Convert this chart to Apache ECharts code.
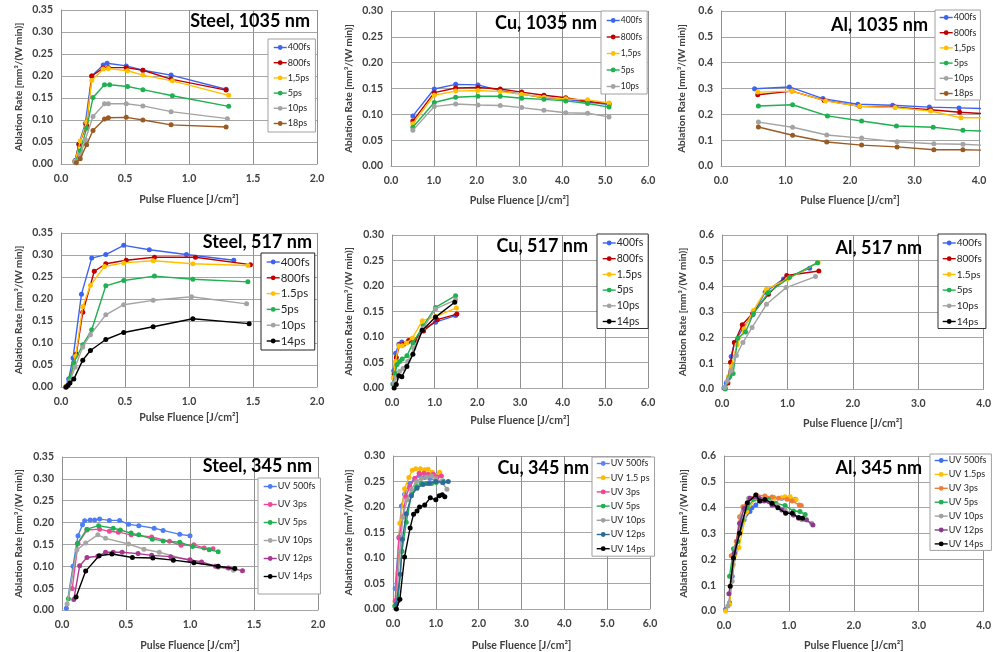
<!DOCTYPE html>
<html><head><meta charset="utf-8">
<script src="https://cdn.jsdelivr.net/npm/echarts/dist/echarts.min.js"></script>
<style>html,body{margin:0;padding:0;background:#fff}#c{width:994px;height:652px}</style>
</head><body><div id="c"></div>
<script>
// ---------- DATA ----------
// Steel, 1035 nm
const steel1035Names = ['400fs','800fs','1,5ps','5ps','10ps','18ps'];
const steel1035_400fs = [[0.11,0.008],[0.14,0.045],[0.19,0.092],[0.24,0.200],[0.33,0.225],[0.36,0.229],[0.51,0.223],[0.64,0.213],[0.86,0.202],[1.29,0.170]];
const steel1035_800fs = [[0.11,0.006],[0.14,0.045],[0.20,0.088],[0.24,0.200],[0.33,0.218],[0.37,0.219],[0.51,0.219],[0.64,0.213],[0.86,0.193],[1.29,0.168]];
const steel1035_1_5ps = [[0.11,0.006],[0.15,0.052],[0.20,0.095],[0.24,0.190],[0.33,0.216],[0.37,0.217],[0.52,0.212],[0.64,0.202],[0.87,0.189],[1.31,0.156]];
const steel1035_5ps = [[0.11,0.004],[0.15,0.030],[0.20,0.081],[0.25,0.151],[0.34,0.180],[0.38,0.180],[0.52,0.176],[0.64,0.169],[0.87,0.155],[1.31,0.131]];
const steel1035_10ps = [[0.11,0.004],[0.15,0.020],[0.19,0.055],[0.25,0.108],[0.34,0.137],[0.37,0.137],[0.51,0.137],[0.64,0.132],[0.86,0.119],[1.30,0.103]];
const steel1035_18ps = [[0.12,0.003],[0.15,0.012],[0.20,0.044],[0.25,0.076],[0.34,0.102],[0.37,0.105],[0.51,0.106],[0.64,0.100],[0.86,0.089],[1.29,0.084]];

// Cu, 1035 nm
const cu1035Names = ['400fs','800fs','1,5ps','5ps','10ps'];
const cu1035_400fs = [[0.51,0.097],[1.01,0.149],[1.51,0.158],[2.03,0.157],[2.55,0.146],[3.05,0.139],[3.57,0.132],[4.08,0.129],[4.59,0.124],[5.09,0.119]];
const cu1035_800fs = [[0.51,0.087],[1.01,0.142],[1.51,0.151],[2.03,0.152],[2.55,0.149],[3.05,0.143],[3.57,0.137],[4.08,0.132],[4.59,0.125],[5.09,0.121]];
const cu1035_1_5ps = [[0.51,0.082],[1.01,0.137],[1.51,0.145],[2.03,0.146],[2.55,0.144],[3.05,0.139],[3.57,0.133],[4.08,0.130],[4.59,0.128],[5.09,0.122]];
const cu1035_5ps = [[0.51,0.075],[1.01,0.123],[1.51,0.133],[2.03,0.135],[2.55,0.135],[3.05,0.131],[3.57,0.129],[4.08,0.126],[4.59,0.121],[5.09,0.114]];
const cu1035_10ps = [[0.51,0.069],[1.01,0.115],[1.51,0.120],[2.03,0.118],[2.55,0.117],[3.05,0.113],[3.57,0.108],[4.08,0.103],[4.59,0.102],[5.09,0.095]];

// Al, 1035 nm
const al1035Names = ['400fs','800fs','1,5ps','5ps','10ps','18ps'];
const al1035_400fs = [[0.52,0.299],[1.06,0.306],[1.58,0.261],[2.12,0.239],[2.66,0.235],[3.23,0.228],[3.69,0.225],[4.25,0.221]];
const al1035_800fs = [[0.57,0.276],[1.10,0.290],[1.60,0.254],[2.15,0.231],[2.70,0.228],[3.25,0.218],[3.70,0.208],[4.25,0.200]];
const al1035_1_5ps = [[0.57,0.286],[1.10,0.290],[1.62,0.252],[2.15,0.231],[2.70,0.226],[3.25,0.213],[3.72,0.187],[4.25,0.187]];
const al1035_5ps = [[0.58,0.232],[1.11,0.237],[1.65,0.194],[2.18,0.174],[2.72,0.155],[3.29,0.150],[3.75,0.138],[4.28,0.133]];
const al1035_10ps = [[0.58,0.170],[1.11,0.150],[1.64,0.120],[2.18,0.108],[2.73,0.094],[3.30,0.086],[3.75,0.084],[4.28,0.078]];
const al1035_18ps = [[0.58,0.151],[1.11,0.119],[1.64,0.093],[2.18,0.081],[2.73,0.074],[3.30,0.063],[3.75,0.063],[4.28,0.060]];

// Steel, 517 nm
const steel517Names = ['400fs','800fs','1.5ps','5ps','10ps','14ps'];
const steel517_400fs = [[0.036,0.000],[0.06,0.018],[0.094,0.066],[0.16,0.211],[0.24,0.293],[0.35,0.301],[0.49,0.322],[0.69,0.312],[0.98,0.301],[1.35,0.288]];
const steel517_800fs = [[0.04,0.000],[0.065,0.013],[0.12,0.075],[0.17,0.170],[0.26,0.263],[0.35,0.280],[0.51,0.288],[0.73,0.295],[1.05,0.295],[1.48,0.278]];
const steel517_1_5ps = [[0.04,0.002],[0.07,0.017],[0.115,0.070],[0.17,0.183],[0.23,0.231],[0.34,0.274],[0.49,0.282],[0.72,0.287],[1.03,0.280],[1.46,0.276]];
const steel517_5ps = [[0.05,0.002],[0.07,0.020],[0.10,0.055],[0.17,0.096],[0.24,0.130],[0.35,0.230],[0.49,0.242],[0.73,0.252],[1.03,0.245],[1.46,0.239]];
const steel517_10ps = [[0.05,0.002],[0.07,0.013],[0.11,0.045],[0.17,0.091],[0.23,0.119],[0.35,0.164],[0.49,0.187],[0.72,0.197],[1.02,0.205],[1.45,0.189]];
const steel517_14ps = [[0.04,0.000],[0.055,0.004],[0.07,0.009],[0.10,0.018],[0.17,0.061],[0.23,0.083],[0.35,0.108],[0.49,0.124],[0.72,0.137],[1.03,0.155],[1.47,0.144]];

// Cu, 517 nm
const cu517Names = ['400fs','800fs','1.5ps','5ps','10ps','14ps'];
const cu517_400fs = [[0.04,0.034],[0.085,0.068],[0.16,0.086],[0.23,0.090],[0.37,0.090],[0.50,0.091],[0.71,0.114],[1.02,0.129],[1.49,0.142]];
const cu517_800fs = [[0.05,0.027],[0.10,0.060],[0.18,0.085],[0.27,0.086],[0.39,0.093],[0.53,0.093],[0.74,0.112],[1.06,0.134],[1.52,0.145]];
const cu517_1_5ps = [[0.03,0.020],[0.08,0.052],[0.16,0.083],[0.24,0.083],[0.34,0.088],[0.48,0.098],[0.71,0.132],[1.02,0.140],[1.51,0.157]];
const cu517_5ps = [[0.02,0.008],[0.07,0.029],[0.12,0.046],[0.18,0.052],[0.24,0.057],[0.35,0.063],[0.49,0.088],[0.73,0.122],[1.02,0.158],[1.49,0.181]];
const cu517_10ps = [[0.05,0.010],[0.10,0.021],[0.18,0.033],[0.26,0.038],[0.37,0.052],[0.51,0.078],[0.73,0.117],[1.02,0.155],[1.49,0.173]];
const cu517_14ps = [[0.05,0.000],[0.10,0.007],[0.16,0.024],[0.23,0.022],[0.35,0.042],[0.49,0.066],[0.71,0.113],[1.02,0.139],[1.47,0.168]];

// Al, 517 nm
const al517Names = ['400fs','800fs','1.5ps','5ps','10ps','14ps'];
const al517_400fs = [[0.03,0.004],[0.065,0.023],[0.10,0.043],[0.14,0.127],[0.19,0.181],[0.32,0.237],[0.47,0.289],[0.66,0.377],[0.94,0.429],[1.34,0.470]];
const al517_800fs = [[0.05,0.004],[0.09,0.023],[0.13,0.104],[0.19,0.181],[0.31,0.250],[0.47,0.295],[0.71,0.369],[0.99,0.442],[1.48,0.460]];
const al517_1_5ps = [[0.05,0.006],[0.10,0.049],[0.14,0.088],[0.23,0.172],[0.34,0.235],[0.48,0.306],[0.68,0.389],[1.00,0.428],[1.47,0.492]];
const al517_5ps = [[0.05,0.000],[0.12,0.049],[0.17,0.060],[0.24,0.198],[0.36,0.222],[0.48,0.293],[0.71,0.376],[1.03,0.434],[1.46,0.492]];
const al517_10ps = [[0.04,0.006],[0.08,0.030],[0.14,0.071],[0.22,0.131],[0.32,0.181],[0.46,0.240],[0.68,0.330],[0.98,0.395],[1.43,0.438]];
const al517_14ps = [];

// Steel, 345 nm
const steel345Names = ['UV 500fs','UV 3ps','UV 5ps','UV 10ps','UV 12ps','UV 14ps'];
const steel345_500fs = [[0.034,0.004],[0.086,0.100],[0.125,0.170],[0.16,0.195],[0.177,0.204],[0.22,0.206],[0.255,0.206],[0.294,0.208],[0.37,0.205],[0.45,0.205],[0.52,0.196],[0.60,0.193],[0.72,0.187],[0.79,0.182],[0.92,0.173],[1.00,0.170]];
const steel345_3ps = [[0.08,0.049],[0.125,0.152],[0.195,0.183],[0.294,0.185],[0.37,0.180],[0.44,0.178],[0.54,0.172],[0.70,0.167],[0.84,0.157],[0.93,0.148],[1.03,0.149],[1.11,0.142],[1.18,0.140]];
const steel345_5ps = [[0.05,0.026],[0.12,0.152],[0.195,0.185],[0.286,0.193],[0.40,0.187],[0.456,0.183],[0.54,0.176],[0.60,0.172],[0.706,0.162],[0.79,0.158],[0.92,0.155],[1.02,0.145],[1.15,0.138],[1.22,0.133]];
const steel345_10ps = [[0.04,0.014],[0.117,0.138],[0.185,0.153],[0.28,0.172],[0.34,0.164],[0.52,0.151],[0.64,0.139],[0.76,0.132],[1.00,0.113],[1.22,0.098],[1.34,0.091]];
const steel345_12ps = [[0.092,0.024],[0.138,0.101],[0.195,0.120],[0.28,0.123],[0.34,0.132],[0.40,0.132],[0.47,0.132],[0.594,0.129],[0.70,0.125],[0.85,0.122],[1.00,0.115],[1.09,0.110],[1.20,0.100],[1.30,0.096],[1.41,0.090]];
const steel345_14ps = [[0.11,0.030],[0.185,0.089],[0.29,0.124],[0.39,0.128],[0.55,0.120],[0.71,0.119],[0.87,0.114],[1.03,0.108],[1.22,0.100],[1.35,0.095]];

// Cu, 345 nm
const cu345Names = ['UV 500fs','UV 1.5 ps','UV 3ps','UV 5ps','UV 10ps','UV 12ps','UV 14ps'];
const cu345_500fs = [[0.05,0.040],[0.14,0.141],[0.195,0.202],[0.27,0.225],[0.39,0.246],[0.51,0.256],[0.62,0.262],[0.74,0.258],[0.86,0.256],[1.01,0.251],[1.15,0.248]];
const cu345_1_5ps = [[0.05,0.013],[0.10,0.069],[0.16,0.168],[0.27,0.236],[0.37,0.258],[0.45,0.272],[0.53,0.275],[0.64,0.275],[0.74,0.273],[0.82,0.274],[0.92,0.268],[1.00,0.262],[1.09,0.268]];
const cu345_3ps = [[0.05,0.016],[0.14,0.139],[0.23,0.181],[0.30,0.220],[0.39,0.240],[0.51,0.256],[0.61,0.266],[0.72,0.266],[0.82,0.264],[0.94,0.264],[1.03,0.259],[1.13,0.261]];
const cu345_5ps = [[0.04,0.006],[0.12,0.016],[0.21,0.113],[0.31,0.170],[0.43,0.225],[0.55,0.240],[0.66,0.246],[0.78,0.246],[0.90,0.246],[1.01,0.248],[1.17,0.251]];
const cu345_10ps = [[0.08,0.010],[0.16,0.113],[0.23,0.180],[0.33,0.214],[0.43,0.235],[0.55,0.250],[0.66,0.256],[0.78,0.259],[0.90,0.261],[1.00,0.256],[1.13,0.250],[1.26,0.235]];
const cu345_12ps = [[0.08,0.010],[0.17,0.068],[0.22,0.137],[0.31,0.187],[0.43,0.222],[0.56,0.237],[0.70,0.244],[0.84,0.246],[1.00,0.250],[1.17,0.248],[1.29,0.250]];
const cu345_14ps = [[0.08,0.000],[0.16,0.019],[0.27,0.102],[0.40,0.159],[0.48,0.186],[0.56,0.192],[0.62,0.200],[0.74,0.204],[0.87,0.218],[1.00,0.214],[1.08,0.222],[1.15,0.224],[1.21,0.220]];

// Al, 345 nm
const al345Names = ['UV 500fs','UV 1.5ps','UV 3ps','UV 5ps','UV 10ps','UV 12ps','UV 14ps'];
const al345_500fs = [[0.025,0.006],[0.086,0.032],[0.126,0.135],[0.21,0.270],[0.31,0.353],[0.40,0.385],[0.43,0.400],[0.49,0.410],[0.57,0.432],[0.67,0.436],[0.77,0.438],[0.89,0.436],[1.00,0.436],[1.10,0.433]];
const al345_1_5ps = [[0.025,0.000],[0.086,0.026],[0.146,0.180],[0.23,0.246],[0.35,0.385],[0.49,0.436],[0.64,0.433],[0.77,0.436],[0.88,0.438],[0.94,0.442],[1.02,0.442],[1.11,0.432]];
const al345_3ps = [[0.11,0.214],[0.19,0.270],[0.24,0.365],[0.29,0.404],[0.39,0.436],[0.50,0.449],[0.63,0.445],[0.74,0.441],[0.84,0.436],[0.97,0.433],[1.05,0.426],[1.16,0.410],[1.19,0.408]];
const al345_5ps = [[0.086,0.135],[0.146,0.241],[0.21,0.270],[0.28,0.353],[0.36,0.400],[0.46,0.433],[0.57,0.426],[0.69,0.430],[0.80,0.417],[0.94,0.408],[1.07,0.387],[1.17,0.385],[1.25,0.374]];
const al345_10ps = [[0.06,0.019],[0.126,0.115],[0.18,0.244],[0.26,0.365],[0.38,0.436],[0.49,0.438],[0.59,0.430],[0.69,0.423],[0.82,0.410],[0.94,0.391],[1.07,0.372],[1.20,0.353],[1.35,0.340]];
const al345_12ps = [[0.076,0.067],[0.16,0.224],[0.24,0.340],[0.31,0.397],[0.40,0.436],[0.54,0.436],[0.62,0.426],[0.74,0.410],[0.89,0.391],[1.07,0.372],[1.15,0.359],[1.27,0.353],[1.37,0.333]];
const al345_14ps = [[0.096,0.096],[0.146,0.205],[0.24,0.301],[0.36,0.419],[0.49,0.449],[0.55,0.426],[0.63,0.432],[0.74,0.417],[0.83,0.400],[0.95,0.378],[1.05,0.378],[1.15,0.362],[1.21,0.359]];

// Axis tick settings
const steelXTicks = {max:2, interval:0.5};
const cuXTicks = {max:6, interval:1};
const alXTicks = {max:4, interval:1};
const steelYTicks = {max:0.35, interval:0.05, dec:2};
const cuYTicks = {max:0.30, interval:0.05, dec:2};
const alYTicks = {max:0.6, interval:0.1, dec:1};

// ---------- STYLE / LAYOUT ----------
const BLUE='#3e64ee', RED='#c00000', ORANGE='#ffc000', GREEN='#1fb050', GRAY='#a3a3a3', BROWN='#9a5b23', BLACK='#000000';
const FONT='Lato';
const yNameStd='Ablation Rate [mm³/(W min)]';

const panels = [
 {grid:{left:61,top:10,width:256,height:154}, title:'Steel, 1035 nm', tr:310, ty:23, xt:steelXTicks, yt:steelYTicks, yName:yNameStd, yGap:37, xGap:30,
  names:steel1035Names, data:[steel1035_400fs,steel1035_800fs,steel1035_1_5ps,steel1035_5ps,steel1035_10ps,steel1035_18ps],
  colors:[BLUE,RED,ORANGE,GREEN,GRAY,BROWN], lg:{left:268,top:39,pad:[3,5,3,5],fs:9,lh:11,sp:15.2,bc:'#a0a0a0'}},
 {grid:{left:391,top:11,width:257,height:155}, title:'Cu, 1035 nm', tr:597, ty:25, xt:cuXTicks, yt:cuYTicks, yName:yNameStd, yGap:37, xGap:29,
  names:cu1035Names, data:[cu1035_400fs,cu1035_800fs,cu1035_1_5ps,cu1035_5ps,cu1035_10ps],
  colors:[BLUE,RED,ORANGE,GREEN,GRAY], lg:{left:601,top:11,pad:[4,5,2,5],fs:8.5,lh:11,sp:16.5,bc:'#a0a0a0'}},
 {grid:{left:721,top:11,width:258,height:155}, title:'Al, 1035 nm', tr:928, ty:27, xt:alXTicks, yt:alYTicks, yName:yNameStd, yGap:34, xGap:29,
  names:al1035Names, data:[al1035_400fs,al1035_800fs,al1035_1_5ps,al1035_5ps,al1035_10ps,al1035_18ps],
  colors:[BLUE,RED,ORANGE,GREEN,GRAY,BROWN], lg:{left:935,top:10,pad:[2,4,1,4],fs:9,lh:11,sp:15.2,bc:'#a0a0a0'}},
 {grid:{left:61,top:233,width:256,height:154}, title:'Steel, 517 nm', tr:312, ty:244, xt:steelXTicks, yt:steelYTicks, yName:yNameStd, yGap:37, xGap:25,
  names:steel517Names, data:[steel517_400fs,steel517_800fs,steel517_1_5ps,steel517_5ps,steel517_10ps,steel517_14ps],
  colors:[BLUE,RED,ORANGE,GREEN,GRAY,BLACK], lg:{left:261,top:253,pad:[3,5,3,5],fs:11.5,lh:12,sp:15.8,bc:'#222'}},
 {grid:{left:392,top:235,width:256,height:153}, title:'Cu, 517 nm', tr:588, ty:248, xt:cuXTicks, yt:cuYTicks, yName:yNameStd, yGap:38, xGap:27,
  names:cu517Names, data:[cu517_400fs,cu517_800fs,cu517_1_5ps,cu517_5ps,cu517_10ps,cu517_14ps],
  colors:[BLUE,RED,ORANGE,GREEN,GRAY,BLACK], lg:{left:597,top:234,pad:[3,5,1,5],fs:10.5,lh:12,sp:15.7,bc:'#333'}},
 {grid:{left:722,top:235,width:266,height:154}, title:'Al, 517 nm', tr:922, ty:250, xt:alXTicks, yt:alYTicks, yName:yNameStd, yGap:34, xGap:29,
  names:al517Names, data:[al517_400fs,al517_800fs,al517_1_5ps,al517_5ps,al517_10ps,al517_14ps],
  colors:[BLUE,RED,ORANGE,GREEN,GRAY,BLACK], lg:{left:938,top:234,pad:[3,4,1,4],fs:10,lh:12,sp:15.7,bc:'#333'}},
 {grid:{left:62,top:457,width:256,height:154}, title:'Steel, 345 nm', tr:312, ty:468, xt:steelXTicks, yt:steelYTicks, yName:yNameStd, yGap:38, xGap:30,
  names:steel345Names, data:[steel345_500fs,steel345_3ps,steel345_5ps,steel345_10ps,steel345_12ps,steel345_14ps],
  colors:['#4d7cf5','#f0459a',GREEN,'#a6a6a6','#a8378f',BLACK], lg:{left:258,top:478,pad:[3,5,12,5],fs:9,lh:11,sp:18,bc:'#a0a0a0'}},
 {grid:{left:393,top:456,width:257,height:154}, title:'Cu, 345 nm', tr:589, ty:470, xt:cuXTicks, yt:cuYTicks, yName:'Ablation rate [mm³/(W min)]', yGap:39, xGap:31,
  names:cu345Names, data:[cu345_500fs,cu345_1_5ps,cu345_3ps,cu345_5ps,cu345_10ps,cu345_12ps,cu345_14ps],
  colors:['#5c85f0','#ffb800','#f0459a',GREEN,'#a0a0a0','#2d6a96',BLACK], lg:{left:592,top:457,pad:[1,5,2,4],fs:9,lh:11,sp:14.2,bc:'#a0a0a0'}},
 {grid:{left:724,top:456,width:264,height:156}, title:'Al, 345 nm', tr:922, ty:470, xt:alXTicks, yt:alYTicks, yName:yNameStd, yGap:35, xGap:29,
  names:al345Names, data:[al345_500fs,al345_1_5ps,al345_3ps,al345_5ps,al345_10ps,al345_12ps,al345_14ps],
  colors:['#3f6ef0','#ffc000','#ef7d3a',GREEN,'#a0a0a0','#8a3a8e',BLACK], lg:{left:930,top:454,pad:[1,5,1,4],fs:9,lh:11,sp:13.9,bc:'#a0a0a0'}}
];

const VGRID='#909090', HGRID='#a6a6a6';
const grid=[], xAxis=[], yAxis=[], series=[], legend=[], title=[];
panels.forEach((p,i)=>{
  grid.push(Object.assign({containLabel:false},p.grid));
  xAxis.push({type:'value', gridIndex:i, min:0, max:p.xt.max, interval:p.xt.interval,
    name:'Pulse Fluence [J/cm²]', nameLocation:'middle', nameGap:p.xGap,
    nameTextStyle:{fontFamily:FONT,fontWeight:'bold',fontSize:10.5,color:'#404040'},
    axisLine:{show:true,lineStyle:{color:HGRID}}, axisTick:{show:false},
    splitLine:{show:true,lineStyle:{color:VGRID,width:1}},
    axisLabel:{formatter:v=>v.toFixed(1),fontFamily:FONT,fontWeight:'bold',fontSize:10.5,color:'#404040',margin:9,showMaxLabel:true,showMinLabel:true}});
  yAxis.push({type:'value', gridIndex:i, min:0, max:p.yt.max, interval:p.yt.interval,
    name:p.yName, nameLocation:'middle', nameGap:p.yGap, nameRotate:90,
    nameTextStyle:{fontFamily:FONT,fontWeight:'bold',fontSize:10,color:'#404040'},
    axisLine:{show:true,lineStyle:{color:VGRID}}, axisTick:{show:false},
    splitLine:{show:true,lineStyle:{color:HGRID,width:1}},
    axisLabel:{formatter:v=>v.toFixed(p.yt.dec),fontFamily:FONT,fontWeight:'bold',fontSize:10.5,color:'#404040',margin:8,showMaxLabel:true}});
  title.push({text:p.title, right:994-p.tr, top:p.ty-11, padding:0,
    textStyle:{fontFamily:FONT,fontWeight:'bold',fontSize:18,color:'#000'}});
  const ldata=[];
  p.names.forEach((n,k)=>{
    series.push({type:'line', name:n, xAxisIndex:i, yAxisIndex:i, data:p.data[k],
      symbol:'circle', symbolSize:5, clip:true,
      itemStyle:{color:p.colors[k]}, lineStyle:{color:p.colors[k],width:1.4}, z:2+k});
    ldata.push({name:n, itemStyle:{color:p.colors[k]}, lineStyle:{color:p.colors[k],width:1.4}});
  });
  legend.push({orient:'vertical', left:p.lg.left, top:p.lg.top, padding:p.lg.pad,
    itemGap:p.lg.sp-p.lg.lh, itemWidth:13, itemHeight:6,
    backgroundColor:'#fff', borderColor:p.lg.bc, borderWidth:1, data:ldata, selectedMode:false,
    textStyle:{fontFamily:FONT,fontSize:p.lg.fs,lineHeight:p.lg.lh,color:'#262626',padding:[0,0,0,-4]}});
});

const chart = echarts.init(document.getElementById('c'), null, {renderer:'canvas'});
chart.setOption({animation:false, backgroundColor:'#fff', title, grid, xAxis, yAxis, legend, series});
</script></body></html>
